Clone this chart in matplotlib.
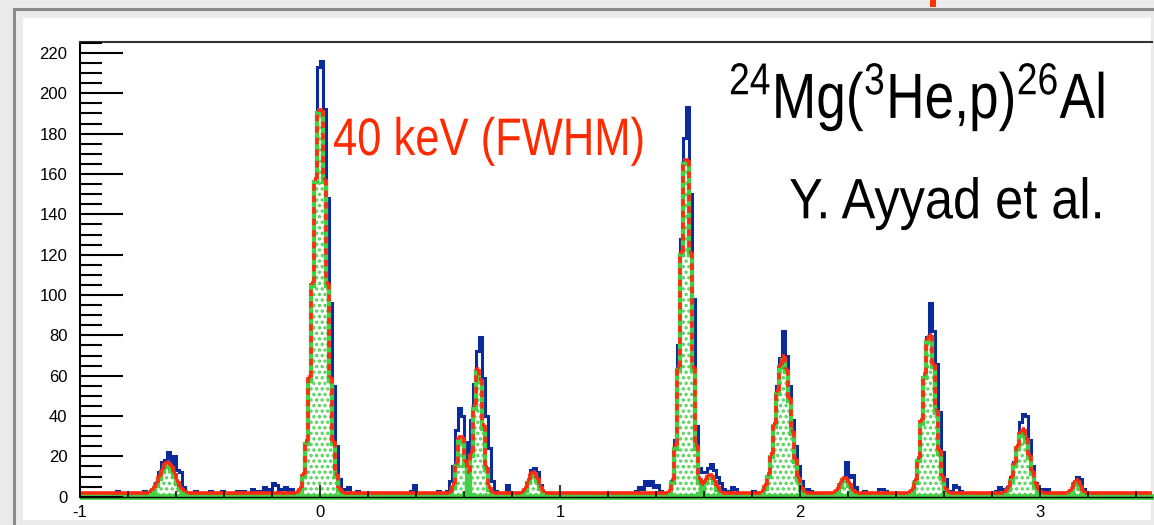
import numpy as np
import matplotlib
matplotlib.use('Agg')
import matplotlib.pyplot as plt
from matplotlib.collections import LineCollection
from matplotlib.patches import Rectangle
from matplotlib.patheffects import AbstractPathEffect
from matplotlib.transforms import Affine2D

# %% Data
bin_width = 0.0125
x_lo, x_hi = -1.0, 3.5

# fitted gaussian components: centroid, height, sigma
peak_pos = [-0.635, 0.0, 0.5875, 0.66, 0.889, 1.525, 1.625, 1.93, 2.188, 2.539, 2.928, 3.153]
peak_amp = [15.5, 195, 30, 63, 11, 172, 9.5, 68, 8, 80, 32, 7]
peak_sig = [0.031, 0.028, 0.016, 0.019, 0.020, 0.022, 0.022, 0.031, 0.020, 0.026, 0.028, 0.015]
fit_bg = 1.6

# measured counts around the peaks: left edge of first bin, counts per bin
win_x0 = [-0.7125, -0.0875, 0.525, 0.85, 1.45, 1.575, 1.85, 2.15, 2.4625, 2.85, 3.125]
win_counts = [
    [2, 4, 7, 12, 17, 18, 22, 16, 20, 13, 12, 5, 2],
    [3, 8, 25, 55, 98, 153, 213, 216, 192, 148, 96, 55, 25, 9, 3],
    [3, 8, 15, 33, 44, 40, 27, 10, 38, 56, 72, 79, 59, 40, 24, 8, 3],
    [2, 7, 13, 14, 12, 6, 2],
    [2, 8, 28, 75, 128, 178, 193, 150, 98, 35],
    [14, 12, 12, 14, 16, 13, 10, 7, 4, 2],
    [3, 8, 18, 35, 55, 69, 82, 70, 55, 38, 25, 15, 8, 3],
    [2, 6, 9, 17, 10, 11, 5, 2],
    [3, 8, 18, 35, 55, 79, 96, 82, 66, 42, 22, 9, 3],
    [2, 5, 10, 17, 24, 37, 41, 40, 28, 15, 7, 3],
    [3, 7, 10, 9, 4, 1],
]

# sparse counts between the peaks
bg_x = [-0.981, -0.856, -0.844, -0.831, -0.794, -0.731, -0.719, -0.531, -0.519, -0.494,
        -0.456, -0.431, -0.406, -0.394, -0.369, -0.344, -0.319, -0.306, -0.281, -0.269,
        -0.244, -0.231, -0.219, -0.206, -0.194, -0.181, -0.169, -0.156, -0.144, -0.131,
        -0.119, -0.106, 0.106, 0.119, 0.131, 0.156, 0.194, 0.269, 0.306, 0.331,
        0.369, 0.381, 0.394, 0.406, 0.419, 0.444, 0.469, 0.494, 0.506, 0.744,
        0.756, 0.781, 0.794, 0.819, 0.944, 0.956, 0.981, 1.156, 1.181, 1.319,
        1.331, 1.344, 1.356, 1.369, 1.381, 1.394, 1.406, 1.419, 1.431, 1.706,
        1.719, 1.731, 1.744, 1.806, 1.831, 2.031, 2.044, 2.056, 2.081, 2.269,
        2.281, 2.331, 2.344, 2.356, 2.381, 2.644, 2.656, 2.669, 2.694, 2.756,
        2.819, 2.831, 2.844, 3.006, 3.019, 3.031, 3.056, 3.081, 3.094, 3.219]
bg_counts = [2, 2, 3, 1, 2, 3, 2, 2, 3, 2,
             3, 2, 3, 2, 2, 3, 3, 2, 4, 3,
             3, 5, 3, 4, 7, 6, 3, 4, 5, 3,
             4, 2, 4, 5, 2, 3, 2, 2, 2, 2,
             2, 3, 6, 2, 2, 2, 2, 3, 2, 2,
             2, 6, 2, 2, 2, 2, 2, 2, 2, 3,
             5, 4, 8, 6, 8, 5, 6, 3, 2, 3,
             5, 4, 2, 3, 2, 4, 3, 2, 2, 3,
             2, 4, 4, 3, 2, 6, 5, 3, 2, 2,
             3, 5, 4, 4, 3, 4, 2, 2, 2, 2]

y_ticks = list(range(0, 221, 20))
x_ticks = [-1, 0, 1, 2, 3]
x_ticklabels = ['-1', '0', '1', '2', '3']


# squeeze text horizontally around an anchor (slide text is a narrow face)
class Squeeze(AbstractPathEffect):
    def __init__(self, sx, x0):
        super().__init__()
        self.sx = sx
        self.x0 = x0

    def draw_path(self, renderer, gc, tpath, affine, rgbFace=None):
        aff = affine + Affine2D().translate(-self.x0, 0).scale(self.sx, 1).translate(self.x0, 0)
        renderer.draw_path(gc, tpath, aff, rgbFace)


# %% Build histogram
edges = np.arange(x_lo, x_hi + bin_width / 2, bin_width)
centers = edges[:-1] + bin_width / 2
counts = np.zeros(len(centers))
for x0, c in zip(win_x0, win_counts):
    k = int(round((x0 - x_lo) / bin_width))
    counts[k:k + len(c)] = c
for x, c in zip(bg_x, bg_counts):
    counts[int((x - x_lo) / bin_width)] = c

comps = [a * np.exp(-0.5 * ((centers - m) / s) ** 2) for m, a, s in zip(peak_pos, peak_amp, peak_sig)]
total = np.sum(comps, axis=0) + fit_bg

# %% Style
plt.rcParams['font.family'] = ['Liberation Sans', 'DejaVu Sans']
plt.rcParams['mathtext.default'] = 'regular'
plt.rcParams['hatch.color'] = '#4fd24f'
plt.rcParams['hatch.linewidth'] = 1.6

blue = '#0b2b9b'
green = '#44d044'
red = '#ff2a10'

# %% Plot
W, H = 1154, 525
fig = plt.figure(figsize=(W / 100, H / 100), dpi=100, facecolor='#ebebeb')

# frame and white panel like the slide
fig.add_artist(Rectangle((14 / W, -0.05), 1.1, 1 - 9 / H + 0.05, transform=fig.transFigure,
                         fill=False, edgecolor='#8a8a8a', lw=2.2, zorder=0))
fig.add_artist(Rectangle((22.7 / W, 1 - 520 / H), (1151 - 22.7) / W, (520 - 18.3) / H,
                         transform=fig.transFigure, facecolor='white', edgecolor='none', zorder=0))
fig.add_artist(Rectangle((930 / W, 1 - 7 / H), 6 / W, 7 / H, transform=fig.transFigure,
                         facecolor='#ff3300', edgecolor='none', zorder=1))

ax = fig.add_axes([80 / W, 1 - 496.7 / H, (1152 - 80) / W, (496.7 - 41.7) / H])
ax.set_facecolor('none')

ax.stairs(counts, edges, color=blue, lw=2.2, zorder=2)

for comp in comps:
    ax.stairs(comp, edges, fill=True, facecolor='white', edgecolor='#4fd24f', hatch='...',
              lw=0, zorder=3)
for comp in comps:
    ax.stairs(comp, edges, color=green, lw=3.1, zorder=3.5, clip_on=False)

# total fit, each step drawn as its own dashed segment
segs = []
for i in range(len(total)):
    segs.append([(edges[i], total[i]), (edges[i + 1], total[i])])
    if i + 1 < len(total):
        segs.append([(edges[i + 1], total[i]), (edges[i + 1], total[i + 1])])
lc = LineCollection(segs, colors=red, linewidths=2.6, linestyles=[(0, (1.8, 1.4))], zorder=4)
ax.add_collection(lc)

ax.set_xlim(x_lo, (1152 - 320) / 240)
ax.set_ylim(0, 225.6)

ax.set_yticks(y_ticks)
ax.set_yticks(np.arange(0, 226, 5), minor=True)
ax.set_xticks(x_ticks)
ax.set_xticks(np.arange(-1, 3.5, 0.2), minor=True)
ax.set_xticklabels(x_ticklabels)
ax.tick_params(axis='y', which='major', direction='in', length=31, width=1.5, pad=9,
               labelsize=12, colors='black')
ax.tick_params(axis='y', which='minor', direction='in', length=16, width=1.5)
ax.tick_params(axis='x', which='major', direction='in', length=8.5, width=1.1, pad=6,
               labelsize=12)
ax.tick_params(axis='x', which='minor', direction='in', length=4.3, width=1.1)

ax.spines['right'].set_visible(False)
ax.spines['left'].set_linewidth(1.5)
ax.spines['top'].set_linewidth(1.5)
ax.spines['top'].set_color('#333333')
ax.spines['bottom'].set_linewidth(1.0)
for s in ax.spines.values():
    s.set_zorder(6)
ax.xaxis.set_zorder(6)
ax.yaxis.set_zorder(6)

fig.text(333 / W, 1 - 155 / H, '40 keV (FWHM)', color='#ff2a00', fontsize=38,
         ha='left', va='baseline', path_effects=[Squeeze(0.825, 333)])
fig.text(1105 / W, 1 - 118 / H, r'$^{24}$Mg($^{3}$He,p)$^{26}$Al', color='black', fontsize=46,
         ha='right', va='baseline', path_effects=[Squeeze(0.833, 1105)])
fig.text(1105 / W, 1 - 218.3 / H, 'Y. Ayyad et al.', color='black', fontsize=41,
         ha='right', va='baseline', path_effects=[Squeeze(0.887, 1105)])

fig.savefig('out.png', dpi=100, facecolor=fig.get_facecolor())
